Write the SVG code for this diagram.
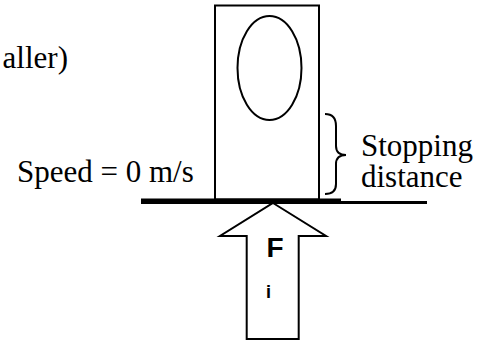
<svg xmlns="http://www.w3.org/2000/svg" width="492" height="341" viewBox="0 0 492 341">
<style>
.t{font-family:"Liberation Serif","Times New Roman",serif;font-size:31px;fill:#000}
.b{font-family:"Liberation Sans",Arial,sans-serif;font-weight:bold;fill:#000}
.s{fill:none;stroke:#000;stroke-width:2}
</style>
<rect width="492" height="341" fill="#fff"/>
<text class="t" x="68" y="68" text-anchor="end">aller)</text>
<g id="block">
<rect class="s" x="215" y="5.5" width="104" height="194"/>
<ellipse class="s" cx="269.5" cy="68" rx="32" ry="52"/>
</g>
<g id="ground">
<rect x="141" y="198.5" width="200" height="5.5" fill="#000"/>
<rect x="340" y="201" width="87" height="3" fill="#000"/>
</g>
<g id="speed">
<text class="t" x="17" y="182">Speed = 0 m/s</text>
</g>
<g id="brace">
<path class="s" d="M325,114 Q336,114 336,126 L336,146 Q336,155 346,155 Q336,155 336,164 L336,184 Q336,194 325,194"/>
<text class="t" x="361" y="156">Stopping</text>
<text class="t" x="361" y="187">distance</text>
</g>
<g id="force">
<polygon class="s" points="273,203 326,236 298.7,236 298.7,339 246.7,339 246.7,236 220,236"/>
<text class="b" x="275" y="257" font-size="28" text-anchor="middle">F</text>
<text class="b" x="268.5" y="298" font-size="18" text-anchor="middle">i</text>
</g>
</svg>
